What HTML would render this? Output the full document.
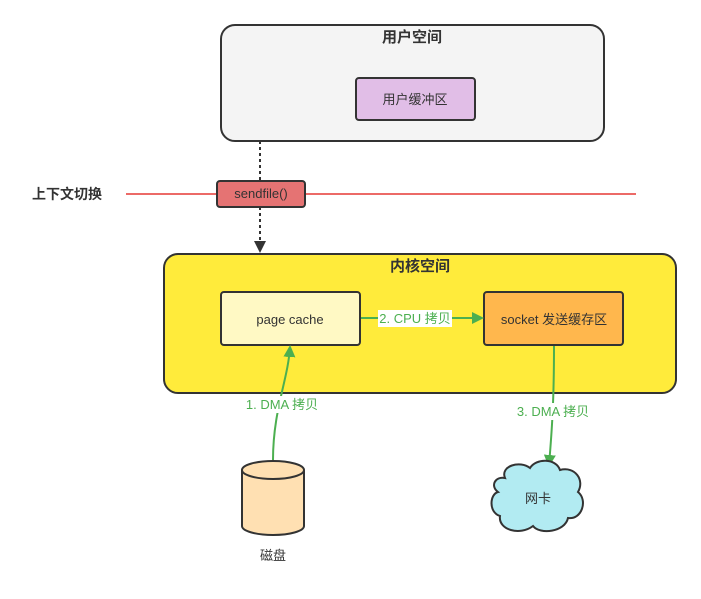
<!DOCTYPE html>
<html><head><meta charset="utf-8"><style>
html,body{margin:0;padding:0;background:#fff}
svg{display:block}
text{font-family:"Liberation Sans","Noto Sans CJK SC",sans-serif}
</style></head><body>
<svg width="701" height="599" viewBox="0 0 701 599" xmlns="http://www.w3.org/2000/svg">
<defs>
<marker id="ga" markerWidth="12" markerHeight="12" refX="10" refY="6" orient="auto" markerUnits="userSpaceOnUse"><path d="M0,0 L12,6 L0,12 Z" fill="#4caf50"/></marker>
<marker id="ka" markerWidth="12" markerHeight="12" refX="10" refY="6" orient="auto" markerUnits="userSpaceOnUse"><path d="M0,0 L12,6 L0,12 Z" fill="#333"/></marker>
</defs>
<rect x="221" y="25" width="383" height="116" rx="14" fill="#f4f4f4" stroke="#333" stroke-width="2"/>
<text x="412" y="42" text-anchor="middle" font-size="15" font-weight="bold" fill="#333">用户空间</text>
<rect x="356" y="78" width="119" height="42" rx="3" fill="#e1bee7" stroke="#333" stroke-width="2"/>
<text x="415" y="104" text-anchor="middle" font-size="13" fill="#333">用户缓冲区</text>
<line x1="126" y1="194" x2="636" y2="194" stroke="#e53935" stroke-width="1.5"/>
<text x="32" y="199" font-size="14" font-weight="bold" fill="#333">上下文切换</text>
<line x1="260" y1="141" x2="260" y2="251" stroke="#333" stroke-width="2" stroke-dasharray="3,3" marker-end="url(#ka)"/>
<rect x="217" y="181" width="88" height="26" rx="3" fill="#e57373" stroke="#333" stroke-width="2"/>
<text x="261" y="198" text-anchor="middle" font-size="13" fill="#333">sendfile()</text>
<rect x="164" y="254" width="512" height="139" rx="14" fill="#ffeb3b" stroke="#333" stroke-width="2"/>
<text x="420" y="271" text-anchor="middle" font-size="15" font-weight="bold" fill="#333">内核空间</text>
<rect x="221" y="292" width="139" height="53" rx="3" fill="#fff9c4" stroke="#333" stroke-width="2"/>
<text x="290" y="324" text-anchor="middle" font-size="13" fill="#333">page cache</text>
<rect x="484" y="292" width="139" height="53" rx="3" fill="#ffb74d" stroke="#333" stroke-width="2"/>
<text x="554" y="324" text-anchor="middle" font-size="13" fill="#333">socket 发送缓存区</text>
<line x1="361" y1="318" x2="482" y2="318" stroke="#4caf50" stroke-width="2" marker-end="url(#ga)"/>
<rect x="378" y="310" width="74" height="17" fill="#fff"/>
<text x="415" y="323" text-anchor="middle" font-size="13" fill="#4caf50">2. CPU 拷贝</text>
<path d="M273,460 C273,410 288,380 290,347" fill="none" stroke="#4caf50" stroke-width="2" marker-end="url(#ga)"/>
<rect x="242" y="396" width="80" height="17" fill="#fff"/>
<text x="282" y="409" text-anchor="middle" font-size="13" fill="#4caf50">1. DMA 拷贝</text>
<path d="M554,346 C554,400 552,430 549,465" fill="none" stroke="#4caf50" stroke-width="2" marker-end="url(#ga)"/>
<rect x="513" y="403" width="80" height="17" fill="#fff"/>
<text x="553" y="416" text-anchor="middle" font-size="13" fill="#4caf50">3. DMA 拷贝</text>
<path d="M242,470 L242,526 A31,9 0 0 0 304,526 L304,470" fill="#ffe0b2" stroke="#333" stroke-width="2"/>
<ellipse cx="273" cy="470" rx="31" ry="9" fill="#ffe0b2" stroke="#333" stroke-width="2"/>
<text x="273" y="560" text-anchor="middle" font-size="13" fill="#333">磁盘</text>
<path d="M505,478 C500,466 520,460 530,468 C536,458 556,458 560,470 C575,466 585,480 578,492 C588,500 582,520 568,518 C565,532 540,535 533,526 C520,536 498,530 500,516 C488,512 490,494 498,492 C490,486 495,476 505,478 Z" fill="#b2ebf2" stroke="#333" stroke-width="2"/>
<text x="538" y="503" text-anchor="middle" font-size="13" fill="#333">网卡</text>
</svg>
</body></html>
